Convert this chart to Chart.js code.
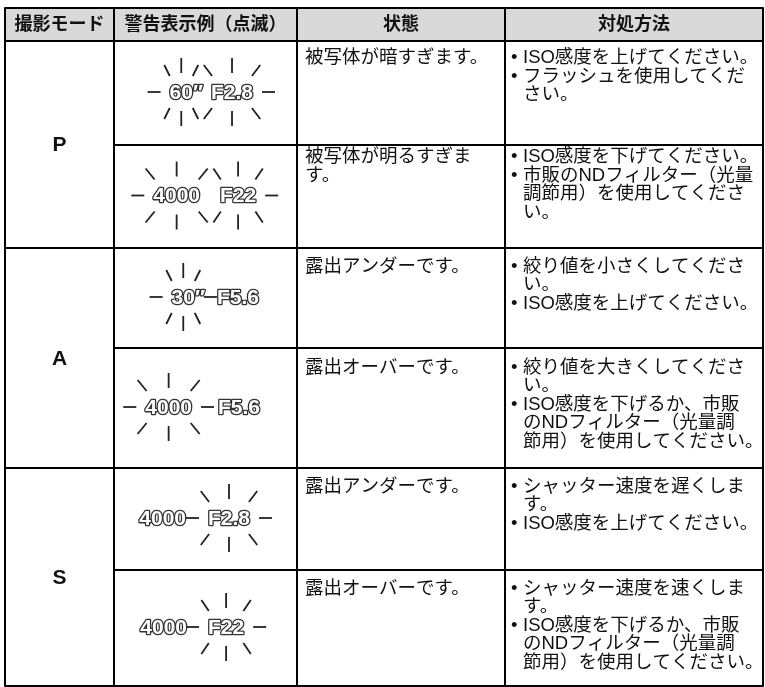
<!DOCTYPE html>
<html lang="ja">
<head>
<meta charset="utf-8">
<title>警告表示</title>
<script src="https://cdn.jsdelivr.net/npm/chart.js@4/dist/chart.umd.min.js"></script>
<style>
  html, body { margin: 0; padding: 0; background: #fff; }
  #wrap { width: 765px; height: 687px; }
</style>
</head>
<body>
<div id="wrap"><canvas id="myChart" width="765" height="687"></canvas></div>
<script>
// データ
const headers = ['撮影モード', '警告表示例（点滅）', '状態', '対処方法'];
const modes = ['P', 'A', 'S'];
const shutterLabels = ['60″', '4000', '30″', '4000', '4000', '4000'];
const apertureLabels = ['F2.8', 'F22', 'F5.6', 'F5.6', 'F2.8', 'F22'];
const shutterBlink = [true, true, true, true, false, false];
const apertureBlink = [true, true, false, false, true, true];
const states = [
  ['被写体が暗すぎます。'],
  ['被写体が明るすぎま', 'す。'],
  ['露出アンダーです。'],
  ['露出オーバーです。'],
  ['露出アンダーです。'],
  ['露出オーバーです。']
];
// 箇条書きごとの行
const remedies = [
  [['ISO感度を上げてください。'], ['フラッシュを使用してくだ', 'さい。']],
  [['ISO感度を下げてください。'], ['市販のNDフィルター（光量', '調節用）を使用してくださ', 'い。']],
  [['絞り値を小さくしてくださ', 'い。'], ['ISO感度を上げてください。']],
  [['絞り値を大きくしてくださ', 'い。'], ['ISO感度を下げるか、市販', 'のNDフィルター（光量調', '節用）を使用してください。']],
  [['シャッター速度を遅くしま', 'す。'], ['ISO感度を上げてください。']],
  [['シャッター速度を速くしま', 'す。'], ['ISO感度を下げるか、市販', 'のNDフィルター（光量調', '節用）を使用してください。']]
];

// レイアウト（スケールの単位）
const colEdges = [0, 109, 292, 500, 758];
const rowEdges = [0, 33, 137, 240, 340, 460, 562, 678];
const textTop = [17, 12, 18.5, 19.5, 18.5, 18.5];
const shutterRight = [-2.5, -5.5, -0.5, -13.5, -19.5, -18.5];
const apertureLeft = [5.5, 14.5, 11.5, 12.5, 2.5, 2.5];
const lineH = 18.5;
const jpFont = '"Liberation Sans", "Noto Sans CJK JP", sans-serif';

// 点滅マーク
function drawBurst(ctx, cx, cy, w, left, right) {
  const segs = [
    [0, -19, 0, -34], [0, 19, 0, 34]
  ];
  [-1, 1].forEach(sx => {
    [-1, 1].forEach(sy => {
      segs.push([sx * (0.9 * w + 1), sy * 16, sx * (1.2 * w + 3), sy * 27]);
    });
  });
  if (left) segs.push([-w - 9, 0, -w - 22, 0]);
  if (right) segs.push([w + 9, 0, w + 22, 0]);
  ctx.save();
  ctx.strokeStyle = '#222';
  ctx.lineWidth = 1.8;
  segs.forEach(s => {
    ctx.beginPath();
    ctx.moveTo(cx + s[0], cy + s[1]);
    ctx.lineTo(cx + s[2], cy + s[3]);
    ctx.stroke();
  });
  ctx.restore();
}

function outlineText(ctx, text, x, y) {
  ctx.lineJoin = 'round';
  ctx.lineWidth = 2.6;
  ctx.strokeStyle = '#333';
  ctx.strokeText(text, x, y);
  ctx.fillStyle = '#fff';
  ctx.fillText(text, x, y);
}

// 表を描くプラグイン
const tablePlugin = {
  id: 'tablePlugin',
  afterDraw(chart) {
    const ctx = chart.ctx;
    const px = v => chart.scales.x.getPixelForValue(v);
    const py = v => chart.scales.y.getPixelForValue(v);
    const last = colEdges.length - 1;
    ctx.save();

    // ヘッダー背景
    ctx.fillStyle = '#d9d9d9';
    ctx.fillRect(px(0), py(0), px(colEdges[last]) - px(0), py(rowEdges[1]) - py(0));

    // ヘッダー文字
    ctx.fillStyle = '#111';
    ctx.font = 'bold 18px ' + jpFont;
    ctx.textAlign = 'center';
    ctx.textBaseline = 'middle';
    headers.forEach((h, i) => {
      ctx.fillText(h, px((colEdges[i] + colEdges[i + 1]) / 2), py(rowEdges[1] / 2) + 1);
    });

    // モード
    ctx.font = 'bold 21px "Liberation Sans", sans-serif';
    modes.forEach((m, i) => {
      const top = rowEdges[1 + i * 2], bottom = rowEdges[3 + i * 2];
      ctx.fillText(m, px((colEdges[0] + colEdges[1]) / 2), py((top + bottom) / 2) + 1);
    });

    // 各行
    states.forEach((lines, r) => {
      const top = rowEdges[r + 1], bottom = rowEdges[r + 2];
      const cy = py((top + bottom) / 2);
      const cx = px((colEdges[1] + colEdges[2]) / 2);

      // 警告表示例
      ctx.font = 'bold 21px "Liberation Sans", "DejaVu Sans", sans-serif';
      ctx.textBaseline = 'middle';
      const sLabel = shutterLabels[r];
      const sDigits = sLabel.replace('″', '');
      const sRight = cx + shutterRight[r];
      const sFull = ctx.measureText(sLabel).width;
      const sW = ctx.measureText(sDigits).width;
      ctx.textAlign = 'right';
      outlineText(ctx, sLabel, sRight, cy);
      const aLeft = cx + apertureLeft[r];
      const aW = ctx.measureText(apertureLabels[r]).width;
      ctx.textAlign = 'left';
      outlineText(ctx, apertureLabels[r], aLeft, cy);
      const both = shutterBlink[r] && apertureBlink[r];
      if (shutterBlink[r]) {
        drawBurst(ctx, sRight - sFull + sW / 2, cy - 1, sW / 2, true, !both);
      }
      if (apertureBlink[r]) {
        drawBurst(ctx, aLeft + aW / 2, cy - 1, aW / 2, !both, true);
      }

      // 状態
      ctx.fillStyle = '#111';
      ctx.font = '18.5px ' + jpFont;
      ctx.textAlign = 'left';
      lines.forEach((t, i) => {
        ctx.fillText(t, px(colEdges[2] + 8), py(top + textTop[r] + i * lineH));
      });

      // 対処方法
      let n = 0;
      remedies[r].forEach(item => {
        item.forEach((t, i) => {
          const y = py(top + textTop[r] + n * lineH);
          if (i === 0) ctx.fillText('•', px(colEdges[3] + 6), y);
          ctx.fillText(t, px(colEdges[3] + 18), y);
          n++;
        });
      });
    });

    // 罫線
    ctx.strokeStyle = '#000';
    ctx.lineWidth = 2;
    const hline = (v, x0, x1) => {
      ctx.beginPath();
      ctx.moveTo(px(x0), py(v));
      ctx.lineTo(px(x1), py(v));
      ctx.stroke();
    };
    const vline = (v, y0, y1) => {
      ctx.beginPath();
      ctx.moveTo(px(v), py(y0));
      ctx.lineTo(px(v), py(y1));
      ctx.stroke();
    };
    const W = colEdges[last], H = rowEdges[rowEdges.length - 1];
    ctx.strokeRect(px(0), py(0), px(W) - px(0), py(H) - py(0));
    hline(rowEdges[1], 0, W);
    for (let k = 2; k < rowEdges.length - 1; k++) {
      hline(rowEdges[k], (k - 1) % 2 === 0 ? 0 : colEdges[1], W);
    }
    for (let i = 1; i < last; i++) vline(colEdges[i], 0, H);

    ctx.restore();
  }
};

// コンフィグ
const config = {
  type: 'scatter',
  data: { datasets: [] },
  options: {
    responsive: false,
    animation: false,
    devicePixelRatio: 1,
    layout: { padding: { left: 5, top: 8, right: 2, bottom: 1 } },
    plugins: { legend: { display: false }, tooltip: { enabled: false } },
    scales: {
      x: { type: 'linear', min: colEdges[0], max: colEdges[colEdges.length - 1], display: false },
      y: { type: 'linear', min: rowEdges[0], max: rowEdges[rowEdges.length - 1], reverse: true, display: false }
    }
  },
  plugins: [tablePlugin]
};

const myChart = new Chart(document.getElementById('myChart'), config);
</script>
</body>
</html>
